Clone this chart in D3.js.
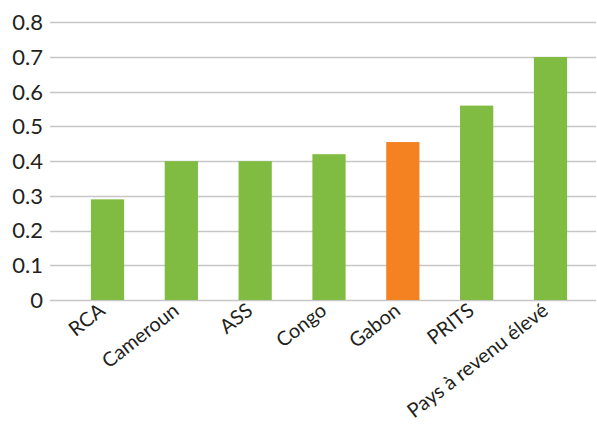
<!DOCTYPE html>
<html>
<head>
<meta charset="utf-8">
<script src="https://cdn.jsdelivr.net/npm/d3@7"></script>
<style>
  body { margin: 0; background: #fff; }
  text { font-family: Lato, "Open Sans", sans-serif; fill: #231f20; }
</style>
</head>
<body>
<script>
// chart data
let categories = ["RCA", "Cameroun", "ASS", "Congo", "Gabon", "PRITS", "Pays à revenu élevé"];
let values = [0.29, 0.40, 0.40, 0.42, 0.455, 0.56, 0.70];
let highlight = ["Gabon"];
let yTicks = [0, 0.1, 0.2, 0.3, 0.4, 0.5, 0.6, 0.7, 0.8];

let width = 597;
let height = 427;

let svg = d3.select("body").append("svg")
  .attr("width", width)
  .attr("height", height);

// scales
let x = d3.scaleBand()
  .domain(categories)
  .range([70.6, 587.4])
  .paddingInner(0.55)
  .paddingOuter(0.275);

let y = d3.scaleLinear()
  .domain([0, 0.8])
  .range([300, 22.3]);

// gridlines
svg.append("g")
  .selectAll("line")
  .data(yTicks)
  .enter().append("line")
    .attr("x1", 50)
    .attr("x2", 596)
    .attr("y1", d => Math.round(y(d)) + 0.5)
    .attr("y2", d => Math.round(y(d)) + 0.5)
    .style("stroke", "#c6c6c6")
    .style("stroke-width", 1.5);

// y labels
svg.append("g")
  .selectAll("text")
  .data(yTicks)
  .enter().append("text")
    .attr("x", 43)
    .attr("y", d => y(d))
    .attr("dy", "0.36em")
    .attr("text-anchor", "end")
    .style("font-size", "22px")
    .text(d => d === 0 ? "0" : d3.format(".1f")(d));

// bars
svg.append("g")
  .selectAll("rect")
  .data(values)
  .enter().append("rect")
    .attr("x", (d, i) => x(categories[i]))
    .attr("width", x.bandwidth())
    .attr("y", d => y(d))
    .attr("height", d => y(0) - y(d))
    .style("fill", (d, i) => highlight.includes(categories[i]) ? "#f58220" : "#80bc42");

// category labels, rotated
svg.append("g")
  .selectAll("text")
  .data(categories)
  .enter().append("text")
    .attr("transform", d => "translate(" + (x(d) + x.bandwidth() / 2 - 1) + ",313) rotate(-38)")
    .attr("text-anchor", "end")
    .style("font-size", "20px")
    .text(d => d);
</script>
</body>
</html>
